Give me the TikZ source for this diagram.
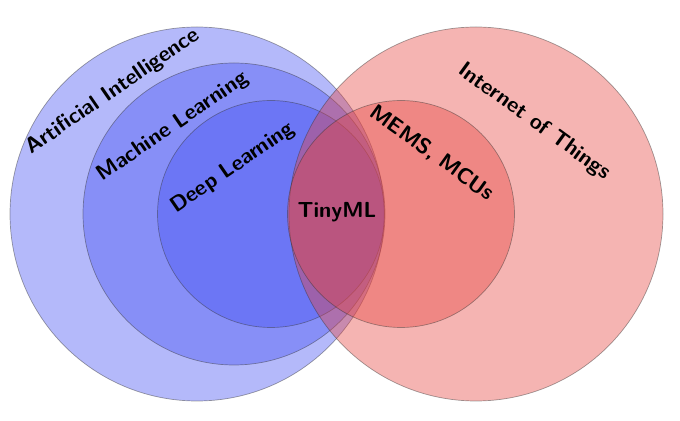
\documentclass[tikz,border=0pt]{standalone}
\definecolor{aiblue}{RGB}{68,80,242}
\definecolor{iotred}{RGB}{230,68,62}
\begin{document}
\begin{tikzpicture}[x=0.5pt,y=-0.5pt,
  ring/.style={circle, inner sep=0pt, draw=black!80, draw opacity=0.45, line width=0.35pt, fill opacity=0.4},
  bluec/.style={ring, fill=aiblue},
  redc/.style={ring, fill=iotred},
  lbl/.style={font=\fontsize{10.9}{13}\selectfont\sffamily\bfseries, text=black, inner sep=0pt}]
\useasboundingbox (0,0) rectangle (680,421);
\node[bluec, minimum size=187pt] (ai) at (197,214) {};
\node[bluec, minimum size=151pt] (ml) at (234,214) {};
\node[bluec, minimum size=113.5pt] (dl) at (271,214) {};
\node[redc, minimum size=187pt] (iot) at (476,214) {};
\node[redc, minimum size=113.5pt] (mems) at (401,214) {};
\node[lbl, rotate=34.5] (ailbl) at (113,92) {Artificial Intelligence};
\node[lbl, rotate=34.5] (mllbl) at (173,127) {Machine Learning};
\node[lbl, rotate=34.5] (dllbl) at (233,168) {Deep Learning};
\node[lbl, rotate=-36] (iotlbl) at (534,122) {Internet of Things};
\node[lbl, rotate=-35.6] (memslbl) at (432,153) {MEMS, MCUs};
\node[lbl] (tinylbl) at (337,212) {TinyML};
\end{tikzpicture}
\end{document}
